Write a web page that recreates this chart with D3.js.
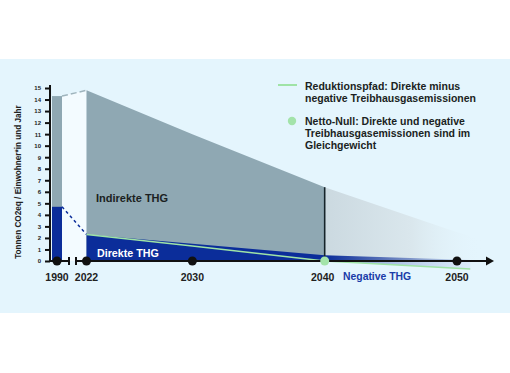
<!DOCTYPE html>
<html>
<head>
<meta charset="utf-8">
<script src="https://cdn.jsdelivr.net/npm/d3@7"></script>
<style>
  body { margin: 0; background: #fff; }
  svg { display: block; font-family: "Liberation Sans", Arial, sans-serif; font-weight: bold; }
</style>
</head>
<body>
<svg id="chart" width="510" height="373"></svg>
<script>
// --- data (t CO2eq per person and year) ---
var yTicks = d3.range(0, 16);
var xTickYears = [1990, 2022, 2030, 2040, 2050];

var base1990 = { total: 14.3, direct: 4.7 };

var indirectYears = [2022, 2030, 2040];
var indirectTotal = [14.8, 11.0, 6.4];
var fadeYears = [2040, 2050, 2052];
var fadeTotal = [6.4, 2.5, 1.8];

var directYears = [2022, 2030, 2040, 2050, 2052];
var directValues = [2.3, 1.5, 0.5, 0.12, 0.05];

var pathYears = [2022, 2030, 2040, 2051];
var pathValues = [2.3, 1.3, 0, -0.7];

var netZeroYear = 2040;

var svg = d3.select("#chart");

// background panel
svg.append("rect")
    .attr("x", 0).attr("y", 59)
    .attr("width", 510).attr("height", 254)
    .attr("fill", "#e4f5fd");

var x = d3.scaleLinear().domain([2022, 2050]).range([86.5, 457]);
var y = d3.scaleLinear().domain([0, 15]).range([261, 88]);

// 1990 sits left of the axis break
function xPos(yr) {
    return yr < 2000 ? x(2022) - 29.5 : x(yr);
}

function zip(years, vals) {
    return years.map(function (yr, i) { return { year: yr, v: vals[i] }; });
}

var defs = svg.append("defs");
var g1 = defs.append("linearGradient").attr("id", "fadeInd")
    .attr("gradientUnits", "userSpaceOnUse")
    .attr("x1", x(2040)).attr("x2", x(2052)).attr("y1", 0).attr("y2", 0);
g1.append("stop").attr("offset", 0).attr("stop-color", "#cbd9e0");
g1.append("stop").attr("offset", 0.55).attr("stop-color", "#dae7ed");
g1.append("stop").attr("offset", 1).attr("stop-color", "#e4f5fd").attr("stop-opacity", 0);

var g2 = defs.append("linearGradient").attr("id", "fadeDir")
    .attr("gradientUnits", "userSpaceOnUse")
    .attr("x1", x(2040)).attr("x2", x(2050)).attr("y1", 0).attr("y2", 0);
g2.append("stop").attr("offset", 0).attr("stop-color", "#0b2d9a");
g2.append("stop").attr("offset", 1).attr("stop-color", "#0b2d9a").attr("stop-opacity", 0.15);

var g3 = defs.append("linearGradient").attr("id", "fadeNeg")
    .attr("gradientUnits", "userSpaceOnUse")
    .attr("x1", x(2040)).attr("x2", x(2051)).attr("y1", 0).attr("y2", 0);
g3.append("stop").attr("offset", 0).attr("stop-color", "#3b55b8").attr("stop-opacity", 0.7);
g3.append("stop").attr("offset", 1).attr("stop-color", "#8c9ed8").attr("stop-opacity", 0.1);

var area = d3.area()
    .x(function (d) { return x(d.year); })
    .y0(y(0))
    .y1(function (d) { return y(d.v); });

// gap between 1990 and 2022
svg.append("path")
    .attr("d", d3.area()
        .x(function (d) { return d[0]; })
        .y0(y(0))
        .y1(function (d) { return y(d[1]); })([[xPos(1990) + 5, base1990.total], [x(2022), indirectTotal[0]]]))
    .attr("fill", "#f3fbff");

// indirect (total) area and faded continuation
svg.append("path").attr("d", area(zip(fadeYears, fadeTotal))).attr("fill", "url(#fadeInd)");
svg.append("path").attr("d", area(zip(indirectYears, indirectTotal))).attr("fill", "#8fa8b3");

// negative emissions below the axis after 2040
var negData = zip(pathYears, pathValues).filter(function (d) { return d.year >= 2040; });
svg.append("path").attr("d", area(negData)).attr("fill", "url(#fadeNeg)");

// direct area
var dirData = zip(directYears, directValues);
svg.append("path").attr("d", area(dirData.filter(function (d) { return d.year >= 2040; })))
    .attr("fill", "url(#fadeDir)");
svg.append("path").attr("d", area(dirData.filter(function (d) { return d.year <= 2040; })))
    .attr("fill", "#0b2d9a");

// 1990 bar
var bw = 10;
svg.append("rect")
    .attr("x", xPos(1990) - bw / 2).attr("width", bw)
    .attr("y", y(base1990.total)).attr("height", y(0) - y(base1990.total))
    .attr("fill", "#8fa8b3");
svg.append("rect")
    .attr("x", xPos(1990) - bw / 2).attr("width", bw)
    .attr("y", y(base1990.direct)).attr("height", y(0) - y(base1990.direct))
    .attr("fill", "#0b2d9a");

// dashed connectors
svg.append("line")
    .attr("x1", xPos(1990) + bw / 2).attr("y1", y(base1990.total))
    .attr("x2", x(2022)).attr("y2", y(indirectTotal[0]))
    .attr("stroke", "#9fb4bd").attr("stroke-width", 1.5).attr("stroke-dasharray", "6,3");
svg.append("line")
    .attr("x1", xPos(1990) + bw / 2).attr("y1", y(base1990.direct))
    .attr("x2", x(2022)).attr("y2", y(directValues[0]))
    .attr("stroke", "#0b2d9a").attr("stroke-width", 1.5).attr("stroke-dasharray", "3,3");

// 2040 marker line
svg.append("line")
    .attr("x1", x(2040)).attr("x2", x(2040))
    .attr("y1", y(indirectTotal[2])).attr("y2", y(0))
    .attr("stroke", "#15242a").attr("stroke-width", 1.6);

// reduction path
svg.append("path")
    .attr("d", d3.line()
        .x(function (d) { return x(d.year); })
        .y(function (d) { return y(d.v); })(zip(pathYears, pathValues)))
    .attr("fill", "none").attr("stroke", "#9fe3a6").attr("stroke-width", 1.6);

// y axis
var yAxis = svg.append("g")
    .attr("transform", "translate(50,0)")
    .call(d3.axisLeft(y).tickValues(yTicks).tickSize(5).tickPadding(4));
yAxis.select(".domain").attr("stroke", "#111").attr("stroke-width", 2).attr("d", "M0," + (y(15) - 3) + "V" + (y(0) + 1));
yAxis.selectAll(".tick line").attr("stroke", "#111").attr("stroke-width", 2);
yAxis.selectAll(".tick text").attr("font-size", 6).attr("font-weight", "bold").attr("fill", "#222")
    .attr("font-family", "Liberation Sans, Arial, sans-serif");

svg.append("text")
    .attr("transform", "translate(21," + 182 + ") rotate(-90)")
    .attr("text-anchor", "middle")
    .attr("font-size", 8.2).attr("fill", "#222")
    .text("Tonnen CO2eq / Einwohner*in und Jahr");

// x axis with break
var axY = y(0);
var ax = svg.append("g").attr("stroke", "#111").attr("stroke-width", 2);
ax.append("line").attr("x1", 49).attr("x2", 69).attr("y1", axY).attr("y2", axY);
ax.append("line").attr("x1", 69).attr("x2", 69).attr("y1", axY - 4).attr("y2", axY + 4);
ax.append("line").attr("x1", 76).attr("x2", 76).attr("y1", axY - 4).attr("y2", axY + 4);
ax.append("line").attr("x1", 76).attr("x2", 488).attr("y1", axY).attr("y2", axY);
svg.append("path")
    .attr("d", "M486," + (axY - 4.5) + "L494," + axY + "L486," + (axY + 4.5) + "Z")
    .attr("fill", "#111");

svg.selectAll(".yrdot")
    .data(xTickYears.filter(function (yr) { return yr !== netZeroYear; }))
    .enter().append("circle")
    .attr("cx", function (d) { return xPos(d); })
    .attr("cy", axY).attr("r", 4.5).attr("fill", "#111");

svg.append("circle")
    .attr("cx", x(netZeroYear)).attr("cy", axY).attr("r", 4.5)
    .attr("fill", "#a3e3aa");

svg.selectAll(".yrlab")
    .data(xTickYears)
    .enter().append("text")
    .attr("x", function (d) { return xPos(d) + (d === 2040 ? -2 : 0); })
    .attr("y", 281)
    .attr("text-anchor", "middle")
    .attr("font-size", 10.5).attr("fill", "#222")
    .text(function (d) { return d; });

// labels
svg.append("text").attr("x", 96).attr("y", 202)
    .attr("font-size", 11).attr("fill", "#1b1f22").text("Indirekte THG");
svg.append("text").attr("x", 97).attr("y", 257)
    .attr("font-size", 10.7).attr("fill", "#fff").text("Direkte THG");
svg.append("text").attr("x", 343).attr("y", 280)
    .attr("font-size", 10.4).attr("fill", "#1a3ca8").text("Negative THG");

// legend
var leg = svg.append("g").attr("font-size", 10.5).attr("fill", "#1b1f22");
leg.append("line").attr("x1", 278).attr("x2", 297).attr("y1", 85).attr("y2", 85)
    .attr("stroke", "#9fe3a6").attr("stroke-width", 2);
leg.append("text").attr("x", 305).attr("y", 90).text("Reduktionspfad: Direkte minus");
leg.append("text").attr("x", 305).attr("y", 102).text("negative Treibhausgasemissionen");
leg.append("circle").attr("cx", 292).attr("cy", 121).attr("r", 4.2).attr("fill", "#a3e3aa");
leg.append("text").attr("x", 305).attr("y", 125).text("Netto-Null: Direkte und negative");
leg.append("text").attr("x", 305).attr("y", 137).text("Treibhausgasemissionen sind im");
leg.append("text").attr("x", 305).attr("y", 149).text("Gleichgewicht");
</script>
</body>
</html>
